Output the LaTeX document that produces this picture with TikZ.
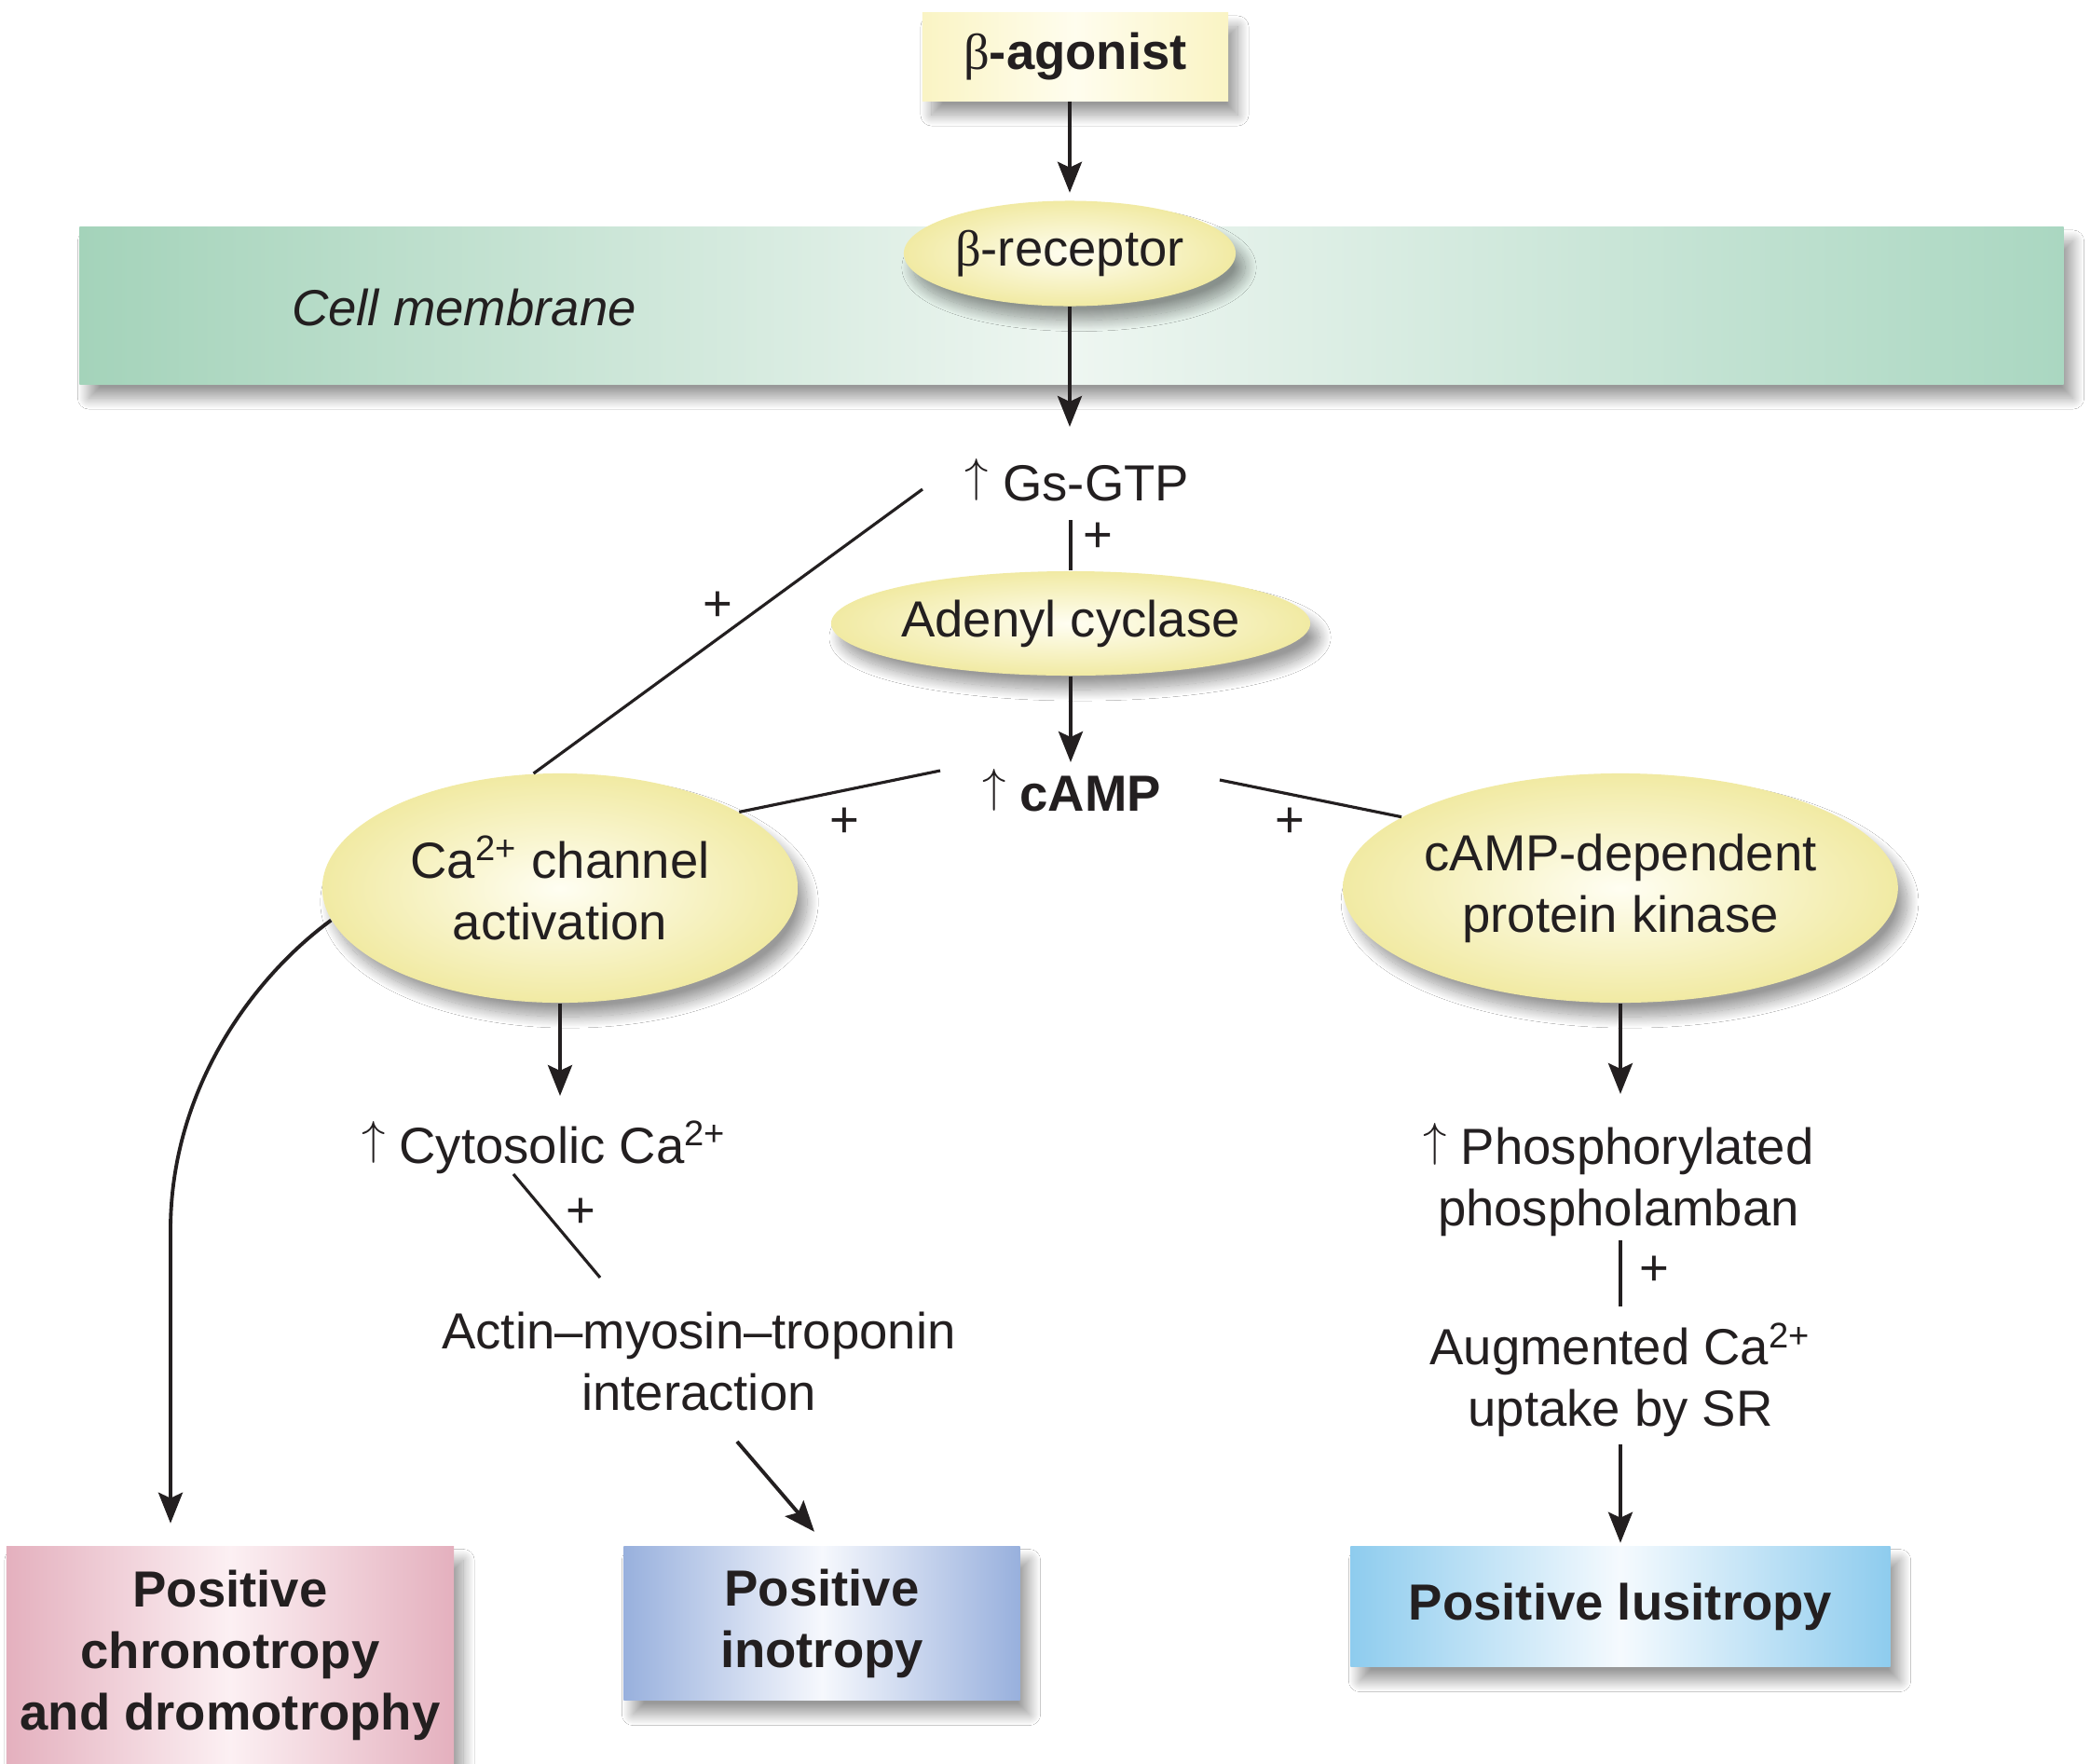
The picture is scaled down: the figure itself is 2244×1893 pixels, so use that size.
\documentclass[tikz,border=0pt]{standalone}
\usepackage{fontspec}
\setmainfont{Liberation Sans}
\newfontfamily\grk{Liberation Serif}
\usetikzlibrary{shapes.geometric,arrows.meta,shadows.blur,calc}
\definecolor{txtc}{RGB}{35,31,32}
\definecolor{ovout}{RGB}{241,234,163}
\definecolor{ovin}{RGB}{255,254,242}
\definecolor{agy}{RGB}{250,244,196}
\definecolor{agw}{RGB}{255,253,238}
\definecolor{memg}{RGB}{164,211,186}
\definecolor{memw}{RGB}{238,246,241}
\definecolor{memr}{RGB}{170,215,193}
\definecolor{pinke}{RGB}{228,176,190}
\definecolor{pinkw}{RGB}{252,240,243}
\definecolor{inoe}{RGB}{152,176,221}
\definecolor{inow}{RGB}{246,248,253}
\definecolor{luse}{RGB}{142,204,238}
\definecolor{lusw}{RGB}{245,250,254}
\newcommand\mysize{\fontsize{15.5}{18.8}\selectfont}
\newcommand\uparr{\raisebox{0.17em}{\normalfont$\uparrow$}}
\begin{document}
\begin{tikzpicture}[x=0.01cm,y=-0.01cm,
  every node/.style={text=txtc},
  font=\mysize,
  shad/.style={blur shadow={shadow xshift=0.1cm,shadow yshift=-0.15cm,shadow blur radius=0.12cm,shadow blur steps=24,shadow opacity=40}},
  oval/.style={ellipse,inner sep=0pt,align=center,shad,inner color=ovin,outer color=ovout},
  lbl/.style={inner sep=0pt,align=center},
  plus/.style={inner sep=0pt},
  outbox/.style={rectangle,inner sep=0pt,align=center,shad,font=\mysize\bfseries},
  arr/.style={line width=1.1pt,draw=txtc,-{Stealth[length=0.33cm,width=0.26cm,inset=0.06cm]}},
  lnk/.style={line width=0.9pt,draw=txtc},
]
\useasboundingbox (0,0) rectangle (2244,1893);
\fill[white] (0,0) rectangle (2244,1893);

% membrane
\node[shad, left color=memg, right color=memr, middle color=memw, minimum width=21.28cm, minimum height=1.68cm, inner sep=0pt] (membrane) at (1150,328) {};
\node[lbl, anchor=base, font=\mysize\itshape] (memlabel) at (498,349) {Cell membrane};

% nodes
\node[shad, left color=agy, right color=agy, middle color=agw, minimum width=3.28cm, minimum height=0.94cm, inner sep=0pt, font=\mysize\bfseries] (agonist) at (1154,61) {{\grk\mdseries β}-agonist};
\node[oval, minimum width=3.56cm, minimum height=1.13cm] (receptor) at (1148,272) {{\grk β}-receptor};
\node[lbl, anchor=base] (gs) at (1156,537) {\uparr\ Gs-GTP};
\node[oval, minimum width=4.62cm, minimum height=1.12cm] (ac) at (1149,669) {Adenyl cyclase};
\node[lbl, anchor=base] (camp) at (1150,870) {\uparr\ \textbf{cAMP}};
\node[oval, minimum width=5.10cm, minimum height=2.46cm] (cach) at (601,953) {Ca\textsuperscript{2+} channel\\activation};
\node[oval, minimum width=5.10cm, minimum height=2.46cm] (pka) at (1739,953) {cAMP-dependent\\protein kinase};
\node[lbl, anchor=base] (cyto) at (584,1248) {\uparr\ Cytosolic Ca\textsuperscript{2+}};
\node[lbl] (actin) at (750,1461) {Actin–myosin–troponin\\interaction};
\node[lbl] (phos) at (1737,1266) {\uparr\ Phosphorylated\\phospholamban};
\node[lbl] (aug) at (1739,1481) {Augmented Ca\textsuperscript{2+}\\uptake by SR};

\node[outbox, left color=pinke, right color=pinke, middle color=pinkw, minimum width=4.80cm, minimum height=2.33cm] (chrono) at (247,1776) {Positive\\chronotropy\\and dromotrophy};
\node[outbox, left color=inoe, right color=inoe, middle color=inow, minimum width=4.25cm, minimum height=1.65cm] (ino) at (882,1742) {Positive\\inotropy};
\node[outbox, left color=luse, right color=luse, middle color=lusw, minimum width=5.79cm, minimum height=1.29cm] (lusi) at (1739,1724) {Positive lusitropy};

% connectors
\draw[arr] (receptor.north |- agonist.south) -- ($(receptor.north)+(0,-8)$);
\draw[arr] (receptor.south) -- ($(receptor.south |- gs.base)+(0,-79)$);
\draw[lnk] ($(ac.north |- gs.base)+(0,21)$) -- (ac.north);
\node[plus] (p1) at (1178,577) {+};
\draw[arr] (ac.south) -- ($(ac.south |- camp.base)+(0,-52)$);

\draw[lnk] ($(gs.base)+(-166,-12)$) -- (cach.103);
\node[plus] (p2) at (770,651) {+};
\draw[lnk] ($(camp.base)+(-141,-43)$) -- (cach.23);
\node[plus] (p3) at (906,883) {+};
\draw[lnk] ($(camp.base)+(159,-33)$) -- (pka.162);
\node[plus] (p4) at (1384,883) {+};

\draw[arr] (cach.south) -- ($(cach.south |- cyto.base)+(0,-72)$);
\draw[lnk] ($(cyto.base)+(-33,12)$) -- ($(actin.center)+(-106,-90)$);
\node[plus] (p5) at (623,1302) {+};
\draw[arr] ($(actin.center)+(41,86)$) -- ($(ino.north)+(-8,-15)$);

\draw[arr] (cach.188) .. controls (270,1050) and (183,1170) .. (183,1320) -- ($(chrono.north)+(-64,-24)$);

\draw[arr] (pka.south) -- ($(pka.south |- phos.center)+(0,-92)$);
\draw[lnk] ($(phos.center)+(2,65)$) -- ($(aug.center)+(0,-79)$);
\node[plus] (p6) at (1775,1364) {+};
\draw[arr] ($(aug.center)+(0,69)$) -- ($(lusi.north)+(0,-3)$);
\end{tikzpicture}
\end{document}
